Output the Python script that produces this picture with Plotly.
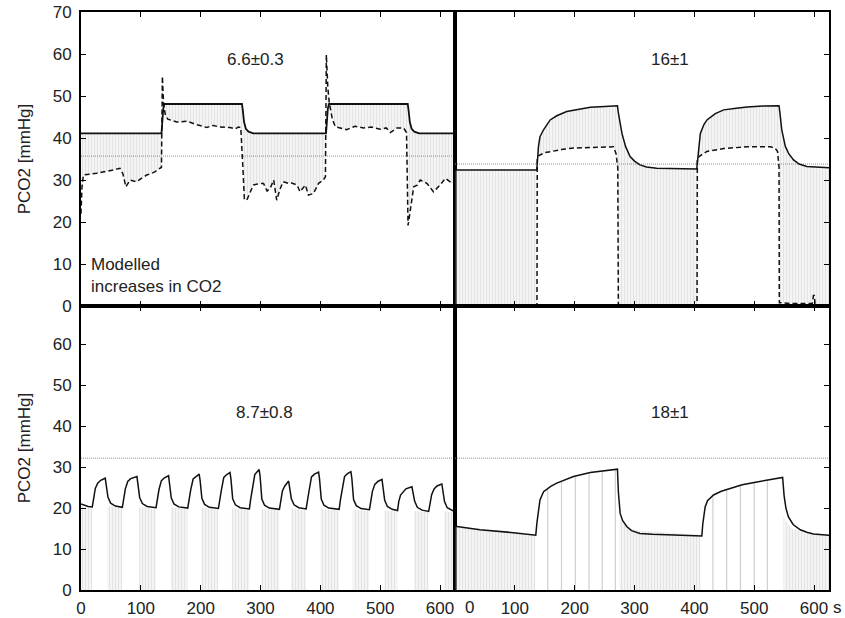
import plotly.graph_objects as go

# ---------------- data ----------------
# Top-left panel (6.6±0.3)
tl_solid_t = [0, 134.5, 136, 137.5, 139.5, 269, 270.5, 272.5, 275.5, 280, 288, 409.5, 411, 412.5, 414.5,
              546, 547.5, 549.5, 552.5, 557, 565, 625]
tl_solid_v = [41.1, 41.1, 44, 47, 48.1, 48.1, 46.5, 43.8, 42.2, 41.5, 41.1, 41.1, 44, 47, 48.1,
              48.1, 46.5, 43.8, 42.2, 41.5, 41.1, 41.1]
tl_dash_t = [0, 1.5, 4, 26, 54, 65, 70, 75, 82, 93, 101, 110, 118, 124, 132, 134.5, 136, 138, 141, 145,
             160, 177, 193, 210, 221, 232, 249, 258, 263, 267, 270.5, 273, 277, 281, 288, 299, 305, 311, 316, 322,
             327, 333, 338, 347, 352, 361, 366, 375, 380, 388.5, 397, 405, 408.5, 410, 412.5, 415, 420, 425, 444, 458,
             472, 485, 500, 510, 517, 528, 539, 544, 546.5, 549, 552, 556, 562, 567, 578, 589, 600, 609, 620, 625]
tl_dash_v = [22, 28, 31.2, 31.6, 32.4, 32.8, 31.5, 28.4, 30, 29.6, 30.4, 31.2, 31.6, 32, 32.8, 33, 54.7, 48, 45.5, 44.5,
             43.8, 44, 43.2, 42.5, 43, 42.6, 42.5, 42.2, 42.6, 42.5, 33, 25.5, 25.2, 26.5, 28.8, 29.2, 29.2, 27.4, 28, 30,
             25.2, 28, 29.6, 29.2, 29.3, 28.8, 27.2, 28.8, 26.4, 26.8, 29.2, 30, 30.8, 59.8, 52, 48.3, 44.5, 42.7, 42, 42.8,
             42.4, 42.6, 42.1, 42.4, 41.3, 42.4, 42.4, 41.3, 19.2, 21.5, 24.3, 28.4, 28.8, 30, 29.2, 27.2, 28.8, 30.4, 29.2, 29.5]

# Top-right panel (16±1)
tr_solid_t = [0, 136.6, 138, 139.5, 142, 147.7, 159, 170, 186.7, 209, 226, 250, 271.5, 273, 276, 279, 285, 292.6, 300, 309,
              320, 337, 404, 405.5, 407, 410, 416, 421, 435, 449, 470, 488, 515, 541.5, 543, 546, 552, 558, 565.8, 575,
              588, 605, 625]
tr_solid_v = [32.4, 32.4, 35, 38, 40.3, 41.9, 44.3, 45.3, 46.3, 46.9, 47.3, 47.5, 47.7, 46, 43.5, 41.1, 38, 35.6, 34.5, 33.6,
              33.1, 32.8, 32.6, 35, 38, 41.1, 43.2, 44.3, 45.8, 46.7, 47.1, 47.4, 47.6, 47.7, 46, 42, 38, 36.2, 34.8, 33.8,
              33.2, 33, 32.9]
tr_dash_t = [0, 137, 137.5, 140, 150, 164, 180, 198, 226, 250, 265, 269, 272, 273, 404.5, 405, 410, 421, 449, 488,
             527, 535, 539, 541.5, 542, 546, 560, 580, 597, 599, 600.5, 602, 625]
tr_dash_v = [0, 0, 35.2, 35.8, 36.5, 36.9, 37.3, 37.6, 37.7, 37.9, 37.9, 36.3, 33, 0, 0, 35.2, 35.8, 36.8, 37.5, 37.9,
             37.9, 37.6, 36.8, 33, 0.8, 0.8, 0.6, 0.6, 0.6, 2.5, 2.5, 0, 0]

# Bottom-left panel (8.7±0.8)
bl_solid_t = [0, 6, 12, 18.9, 20.9, 23.9, 27.9, 32.9, 40.5, 42, 45, 49.5, 57.5, 69.1,
              71.1, 74.1, 78.1, 83.1, 93.5, 95, 98, 102.5, 110.5, 125.4,
              127.4, 130.4, 134.4, 139.4, 146.3, 147.8, 150.8, 155.3, 163.3, 178.4,
              180.4, 183.4, 187.4, 192.4, 197.5, 199, 202, 206.5, 214.5, 229.6,
              231.6, 234.6, 238.6, 243.6, 249, 250.5, 253.5, 258, 266, 281.4,
              283.4, 286.4, 290.4, 294.4, 297.7, 299.2, 302.2, 306.7, 314.7, 331.6,
              333.6, 336.6, 340.6, 344.6, 347, 348.5, 351.5, 356, 364, 376.2,
              378.2, 381.2, 385.2, 390.2, 397, 398.5, 401.5, 406, 414, 431.4,
              433.4, 436.4, 440.4, 445.4, 451, 452.5, 455.5, 460, 468, 482,
              484, 487, 491, 496, 503, 504.5, 507.5, 512, 520, 529,
              531, 534, 538, 543, 553, 554.5, 557.5, 562, 570, 581,
              583, 586, 590, 595, 603, 604.5, 607.5, 612, 620, 625]
bl_solid_v = [21.0, 20.6, 20.4, 20.3, 22.5, 24.8, 26.1, 26.8, 27.3, 25.8, 22.7, 21.2, 20.5, 20.2,
              22.4, 24.7, 26.5, 27.2, 27.7, 26.2, 22.6, 21.1, 20.4, 20.1,
              22.3, 24.6, 26.7, 27.4, 27.9, 26.4, 22.5, 21.0, 20.3, 20.0,
              22.2, 24.5, 27.1, 27.8, 28.3, 26.8, 22.4, 20.9, 20.2, 19.9,
              22.1, 24.4, 27.5, 28.2, 28.7, 27.2, 22.3, 20.8, 20.1, 19.8,
              22.0, 24.3, 28.2, 28.9, 29.4, 27.9, 22.2, 20.7, 20.0, 19.7,
              21.9, 24.2, 25.4, 26.1, 26.6, 25.1, 22.3, 20.8, 20.1, 19.8,
              22.0, 24.3, 27.6, 28.3, 28.8, 27.3, 22.2, 20.7, 20.0, 19.7,
              21.9, 24.2, 27.7, 28.4, 28.9, 27.4, 22.1, 20.6, 19.9, 19.6,
              21.8, 24.1, 25.8, 26.5, 27.0, 25.5, 21.9, 20.4, 19.7, 19.4,
              21.6, 23.2, 24.0, 24.7, 25.2, 23.7, 21.7, 20.2, 19.5, 19.2,
              21.4, 23.3, 24.7, 25.4, 25.9, 24.4, 21.6, 20.1, 19.4, 19.1]
bl_gray_t = [0, 18.5, None, 44, 68.5, None, 97, 125, None, 150, 178, None, 201, 229, None, 252, 281, None,
             301, 331, None, 351, 376, None, 400, 431, None, 454, 481.5, None, 507, 528.5, None,
             557, 580.5, None, 607, 625]
bl_gray_v = [20.5, 20, None, 20.5, 20, None, 20.3, 19.8, None, 20.2, 19.7, None, 20, 19.6, None, 19.9, 19.5, None,
             19.8, 19.5, None, 19.9, 19.5, None, 19.8, 19.4, None, 19.6, 19.3, None, 19.4, 19.2, None,
             19.3, 19.0, None, 19.2, 19.0]

# Bottom-right panel (18±1)
br_solid_t = [0, 41.8, 97.6, 134, 135, 137, 139.7, 142, 148, 160, 170, 185, 198, 226, 250, 270, 271.5, 273, 276, 280,
              287, 295, 309, 330, 365, 410, 412.5, 414, 416, 418, 422, 432, 445, 460, 480, 504.5, 525, 546, 547.5, 550,
              553, 557, 565, 577, 588, 599, 625]
br_solid_v = [15.6, 14.7, 14.0, 13.4, 13.4, 16.5, 20.3, 22, 24, 25.3, 26.1, 27.0, 27.7, 28.7, 29.2, 29.5, 29.5, 24, 18.7, 17,
              15.5, 14.5, 13.8, 13.6, 13.4, 13.2, 13.2, 16, 18.5, 20.3, 21.8, 23.2, 24.1, 24.8, 25.7, 26.4, 27, 27.5, 27.5, 23,
              20, 17.9, 16, 14.7, 14.1, 13.7, 13.4]
br_gray_t = [0, 41.8, 97.6, 134, None, 275, 280, 287, 295, 309, 330, 365, 410, None,
             549, 553, 557, 565, 577, 588, 599, 625]
br_gray_v = [15.6, 14.7, 14.0, 13.4, None, 17.5, 16.5, 15.3, 14.8, 14.5, 14.3, 14.0, 13.5, None,
             18, 17, 16, 14.8, 14.3, 14.0, 13.6, 13.4]
br_sparse_t = [155, 178, 201, 224, 246, 268, 431, 454, 477, 500, 522]
br_sparse_h = [24.7, 26.4, 27.7, 28.6, 29.1, 29.4, 23.0, 24.6, 25.5, 26.3, 26.9]

# Reference (dotted) levels per panel: TL, TR, BL, BR
ref_levels = [35.7, 33.8, 32.2, 32.2]
panel_labels = ["6.6±0.3", "16±1", "8.7±0.8", "18±1"]
label_pos_t = [291, 360, 306, 360]
label_pos_v = [58.6, 58.6, 43.3, 43.3]
x_ticks = [0, 100, 200, 300, 400, 500, 600]
t_range = [0, 625]

# ---------------- styling ----------------
FONT = "Liberation Sans, Arial, Helvetica, sans-serif"
FS = 17
GRAY = "#c8c8c8"
pattern = dict(shape="|", fgcolor=GRAY, bgcolor="rgba(0,0,0,0)", size=3, solidity=0.6)
black_line = dict(color="#111111", width=1.5)
dash_line = dict(color="#111111", width=1.5, dash="5px,3px")

fig = go.Figure()
axes = [("x", "y"), ("x2", "y2"), ("x3", "y3"), ("x4", "y4")]


def band(ax, lo_t, lo_v, hi_t, hi_v):
    xa, ya = ax
    fig.add_trace(go.Scatter(x=lo_t, y=lo_v, mode="lines", line=dict(width=0, color="rgba(0,0,0,0)"),
                             xaxis=xa, yaxis=ya, hoverinfo="skip", showlegend=False))
    fig.add_trace(go.Scatter(x=hi_t, y=hi_v, mode="lines", line=dict(width=0, color="rgba(0,0,0,0)"),
                             fill="tonexty", fillcolor="rgba(0,0,0,0)", fillpattern=pattern,
                             xaxis=xa, yaxis=ya, hoverinfo="skip", showlegend=False))


def split_segments(ts, vs):
    segs, cur_t, cur_v = [], [], []
    for t, v in zip(ts, vs):
        if t is None:
            if cur_t:
                segs.append((cur_t, cur_v))
            cur_t, cur_v = [], []
        else:
            cur_t.append(t)
            cur_v.append(v)
    if cur_t:
        segs.append((cur_t, cur_v))
    return segs


# gray breathing oscillations
band(axes[0], tl_dash_t, tl_dash_v, tl_solid_t, tl_solid_v)
band(axes[1], tr_dash_t, tr_dash_v, tr_solid_t, tr_solid_v)
for ax, gt, gv in [(axes[2], bl_gray_t, bl_gray_v), (axes[3], br_gray_t, br_gray_v)]:
    for st, sv in split_segments(gt, gv):
        fig.add_trace(go.Scatter(x=st, y=sv, mode="lines", line=dict(width=0, color="rgba(0,0,0,0)"),
                                 fill="tozeroy", fillcolor="rgba(0,0,0,0)", fillpattern=pattern,
                                 xaxis=ax[0], yaxis=ax[1], hoverinfo="skip", showlegend=False))

# sparse single breaths in bottom-right
sx, sy = [], []
for t, h in zip(br_sparse_t, br_sparse_h):
    sx += [t, t, None]
    sy += [0, h, None]
fig.add_trace(go.Scatter(x=sx, y=sy, mode="lines", line=dict(color="#cfcfcf", width=1.2),
                         xaxis="x4", yaxis="y4", hoverinfo="skip", showlegend=False))

# dotted reference lines
for ax, lv in zip(axes, ref_levels):
    fig.add_trace(go.Scatter(x=t_range, y=[lv, lv], mode="lines",
                             line=dict(color="#8c8c8c", width=1, dash="1px,1px"),
                             xaxis=ax[0], yaxis=ax[1], hoverinfo="skip", showlegend=False))

# dashed lines
fig.add_trace(go.Scatter(x=tl_dash_t, y=tl_dash_v, mode="lines", line=dash_line, xaxis="x", yaxis="y", showlegend=False))
fig.add_trace(go.Scatter(x=tr_dash_t, y=tr_dash_v, mode="lines", line=dash_line, xaxis="x2", yaxis="y2", showlegend=False))

# solid lines
fig.add_trace(go.Scatter(x=tl_solid_t, y=tl_solid_v, mode="lines", line=dict(color="#111111", width=1.8), xaxis="x", yaxis="y", showlegend=False))
fig.add_trace(go.Scatter(x=tr_solid_t, y=tr_solid_v, mode="lines", line=black_line, xaxis="x2", yaxis="y2", showlegend=False))
fig.add_trace(go.Scatter(x=bl_solid_t, y=bl_solid_v, mode="lines", line=black_line, xaxis="x3", yaxis="y3", showlegend=False))
fig.add_trace(go.Scatter(x=br_solid_t, y=br_solid_v, mode="lines", line=black_line, xaxis="x4", yaxis="y4", showlegend=False))

SPLIT_X = 0.5
SPLIT_Y = 0.4913
tickfont = dict(family=FONT, size=FS, color="#222222")


def xax(domain, anchor, labels, ticktext=None):
    d = dict(domain=domain, anchor=anchor, range=t_range, showline=True, linecolor="black", linewidth=2,
             mirror="ticks", ticks="inside", ticklen=5, tickwidth=1, tickcolor="black",
             tickvals=x_ticks, showgrid=False, zeroline=False, showticklabels=labels,
             tickfont=tickfont, ticklabelstandoff=2, automargin=False)
    if ticktext is not None:
        d["ticktext"] = ticktext
    return d


def yax(domain, anchor, rng, side, title):
    d = dict(domain=domain, anchor=anchor, range=rng, side=side, showline=True, linecolor="black", linewidth=2,
             mirror=True, ticks="inside", ticklen=5, tickwidth=1, tickcolor="black",
             dtick=10, tick0=0, showgrid=False, zeroline=False, showticklabels=(side == "left"),
             tickfont=tickfont, ticklabelstandoff=4, automargin=False)
    if title:
        d["title"] = dict(text="PCO2 [mmHg]", font=dict(family=FONT, size=FS, color="#222222"), standoff=18)
    return d


top = [SPLIT_Y, 1]
bot = [0, SPLIT_Y]
left = [0, SPLIT_X]
right = [SPLIT_X, 1]

annotations = []
for ax, txt, at, av in zip(axes, panel_labels, label_pos_t, label_pos_v):
    annotations.append(dict(x=at, y=av, xref=ax[0], yref=ax[1], text=txt, showarrow=False,
                            font=dict(family=FONT, size=FS, color="#222222")))
annotations.append(dict(x=14, y=7.3, xref="x", yref="y", text="Modelled<br>increases in CO2", showarrow=False,
                        xanchor="left", align="left", font=dict(family=FONT, size=FS, color="#222222")))
annotations.append(dict(x=25, y=-0.03, xref="x4", yref="paper", text="0", showarrow=False, yanchor="middle",
                        borderpad=0, font=tickfont))
annotations.append(dict(x=1.012, y=-0.03, xref="paper", yref="paper", text="s", showarrow=False,
                        xanchor="center", yanchor="middle", borderpad=0, font=tickfont))

fig.update_layout(
    width=845, height=618,
    margin=dict(l=81, r=16, t=12, b=28, autoexpand=False),
    paper_bgcolor="white", plot_bgcolor="white",
    font=dict(family=FONT, size=FS, color="#222222"),
    xaxis=xax(left, "y", False),
    yaxis=yax(top, "x", [0, 70], "left", True),
    xaxis2=xax(right, "y2", False),
    yaxis2=yax(top, "x2", [0, 70], "right", False),
    xaxis3=xax(left, "y3", True),
    yaxis3=yax(bot, "x3", [0, 69.35], "left", True),
    xaxis4=xax(right, "y4", True, ticktext=[""] + [str(v) for v in x_ticks[1:]]),
    yaxis4=yax(bot, "x4", [0, 69.35], "right", False),
    annotations=annotations,
    showlegend=False,
)

fig.write_html("out.html")
